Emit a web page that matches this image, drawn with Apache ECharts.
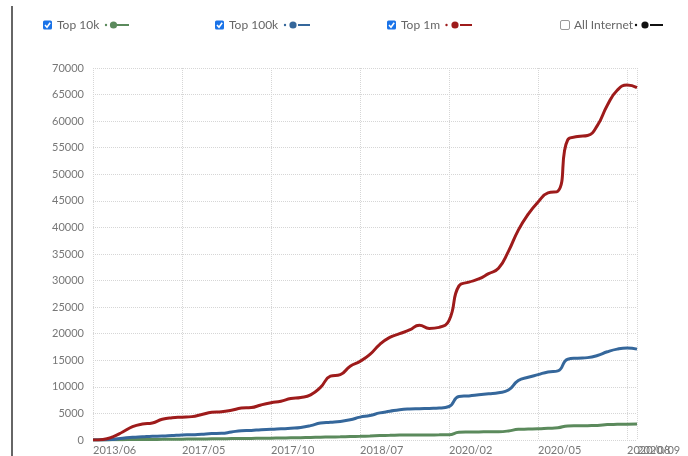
<!DOCTYPE html>
<html>
<head>
<meta charset="utf-8">
<script src="https://cdn.jsdelivr.net/npm/echarts@6/dist/echarts.min.js"></script>
<style>
html,body{margin:0;padding:0;background:#fff;}
#c{width:688px;height:456px;}
</style>
</head>
<body>
<div id="c"></div>
<script>
var categories = [
 '2013/06/01','2013/11/01','2014/04/01','2014/09/01','2015/02/01','2015/07/01','2015/12/01','2016/06/01','2016/11/01',
 '2017/05/01','2017/05/18','2017/06/04','2017/06/21','2017/07/08','2017/07/25','2017/08/11','2017/08/28','2017/09/14',
 '2017/10/01','2017/11/01','2017/12/01','2018/01/01','2018/02/01','2018/03/01','2018/04/01','2018/05/01','2018/06/01',
 '2018/07/01','2018/09/01','2018/11/01','2019/01/01','2019/03/01','2019/05/01','2019/07/01','2019/09/01','2019/11/01',
 '2020/02/01','2020/02/11','2020/02/21','2020/03/01','2020/03/11','2020/03/21','2020/04/01','2020/04/11','2020/04/21',
 '2020/05/01','2020/05/11','2020/05/21','2020/06/01','2020/06/11','2020/06/21','2020/07/01','2020/07/11','2020/07/21',
 '2020/08/01','2020/09/01'
];
var top10k = [0,0,30,60,80,100,110,120,140,160,180,200,220,240,260,280,300,320,350,370,400,430,470,520,570,600,650,700,760,830,880,920,940,950,960,970,1000,1450,1500,1520,1540,1560,1700,2000,2050,2100,2200,2300,2650,2680,2700,2720,2900,2950,2980,3000];
var top100k = [0,0,100,350,500,600,700,750,850,950,1000,1100,1200,1250,1500,1750,1800,1950,2000,2100,2200,2350,2700,3200,3350,3500,3800,4300,4600,5100,5400,5700,5850,5900,5950,6000,6300,8200,8300,8500,8700,8900,9400,11200,11800,12300,12800,13000,15200,15400,15500,15900,16600,17100,17300,17100];
var top1m = [0,100,600,1500,2500,3000,3200,3900,4200,4300,4400,4800,5200,5300,5600,6000,6100,6600,7000,7300,7800,8000,8500,9900,12000,12300,13900,14800,16100,18000,19300,20000,20700,21600,21000,21200,22500,29000,29700,30300,31300,32300,35500,39500,42500,44800,46500,46800,56500,57100,57300,59200,63000,65800,66800,66300];
var yTicks = {min:0, max:70000, interval:5000};
var legendNames = ['Top 10k','Top 100k','Top 1m','All Internet'];
var legendChecked = [true,true,true,false];
var colors = ['#5b8a5c','#35679b','#9e1b1b','#111111'];

var chart = echarts.init(document.getElementById('c'));
var last = categories.length - 1;
var labelIdx = function(i){ return i % 9 === 0; };
var splitIdx = function(i){ return i % 9 === 0 || i === last; };
var lastIdx = function(i){ return i === last; };

var legendX = [43, 215, 387, 560];
var gfx = [{type:'line', shape:{x1:12,y1:6,x2:12,y2:456}, style:{stroke:'#333',lineWidth:1.5}}];
legendNames.forEach(function(n, k){
  var x = legendX[k], cy = 25;
  if (legendChecked[k]) {
    gfx.push({type:'rect', shape:{x:x,y:cy-4.5,width:9,height:9,r:1.5}, style:{fill:'#1a73e8'}});
    gfx.push({type:'polyline', shape:{points:[[x+2,cy],[x+4,cy+2.2],[x+7.2,cy-2.3]]}, style:{stroke:'#fff',lineWidth:1.6,fill:null}});
  } else {
    gfx.push({type:'rect', shape:{x:x+0.5,y:cy-4.5,width:9,height:9,r:1.5}, style:{fill:'#fff',stroke:'#999',lineWidth:1}});
  }
  gfx.push({type:'text', x:x+14, y:cy, style:{text:n, fill:'#666', font:'12px Lato', textVerticalAlign:'middle', textBaseline:'middle'}});
});
var markX = [[106,113.5,117,129],[285,293,298,310],[446.5,455,460,472],[636,645,650,663]];
markX.forEach(function(m,k){
  var c = colors[k];
  gfx.push({type:'circle', shape:{cx:m[0],cy:25,r:1.2}, style:{fill:c}});
  gfx.push({type:'circle', shape:{cx:m[1],cy:25,r:3.6}, style:{fill:c}});
  gfx.push({type:'line', shape:{x1:m[2],y1:25,x2:m[3],y2:25}, style:{stroke:c,lineWidth:2}});
});

function mk(name, data, color){
  return {name:name, type:'line', data:data, smooth:true, showSymbol:false, symbol:'none',
    lineStyle:{color:color, width:3}, itemStyle:{color:color}, z:3};
}
var xLabelBase = {align:'left', color:'#777', fontSize:11, margin:5, hideOverlap:false,
  formatter:function(v){ return v.slice(0,7); }};

chart.setOption({
  animation:false,
  textStyle:{fontFamily:'Lato'},
  grid:{left:93, right:51, top:68, bottom:14.5, containLabel:false},
  xAxis:[{type:'category', boundaryGap:false, data:categories, position:'bottom',
    axisLine:{show:false}, axisTick:{show:false},
    axisLabel:Object.assign({interval:labelIdx, showMinLabel:true, showMaxLabel:true}, xLabelBase),
    splitLine:{show:true, interval:splitIdx, lineStyle:{type:'dotted', color:'#d6d6d6', width:1}}
  },{type:'category', boundaryGap:false, data:categories, position:'bottom',
    axisLine:{show:false}, axisTick:{show:false}, splitLine:{show:false},
    axisLabel:Object.assign({interval:lastIdx, showMinLabel:false, showMaxLabel:true}, xLabelBase)
  }],
  yAxis:{type:'value', min:yTicks.min, max:yTicks.max, interval:yTicks.interval,
    axisLine:{show:false}, axisTick:{show:false},
    axisLabel:{color:'#777', fontSize:11, margin:9, formatter:function(v){ return String(v); }},
    splitLine:{show:true, lineStyle:{type:'dotted', color:'#d6d6d6', width:1}}
  },
  series:[mk('Top 10k', top10k, colors[0]), mk('Top 100k', top100k, colors[1]), mk('Top 1m', top1m, colors[2])],
  graphic:gfx
});
</script>
</body>
</html>
